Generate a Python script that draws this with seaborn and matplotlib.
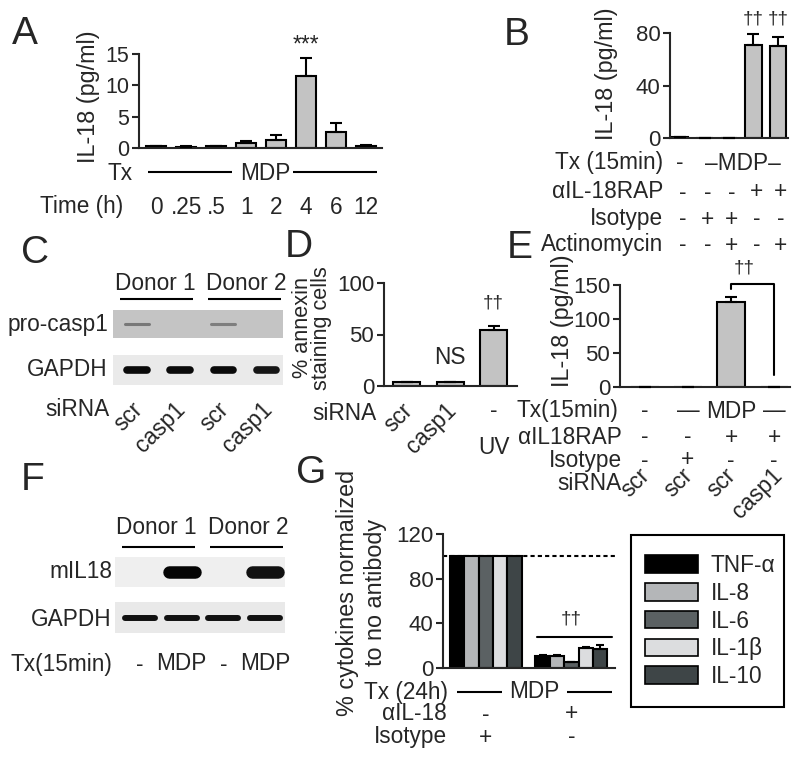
import numpy as np
import pandas as pd
import matplotlib
matplotlib.use("Agg")
import matplotlib.pyplot as plt
import seaborn as sns
from matplotlib.patches import Patch, Rectangle

# ---------------- data ----------------
a_times = ['0', '.25', '.5', '1', '2', '4', '6', '12']
a_il18 = [0.25, 0.2, 0.25, 0.85, 1.35, 11.5, 2.6, 0.35]
a_err = [0.1, 0.1, 0.1, 0.25, 0.65, 2.8, 1.4, 0.2]

b_il18 = [0.5, 0, 0, 71, 70]
b_err = [0, 0, 0, 8, 7]
b_rap = ['-', '-', '-', '+', '+']
b_iso = ['-', '+', '+', '-', '-']
b_act = ['-', '-', '+', '-', '+']

c_lanes = ['scr', 'casp1', 'scr', 'casp1']
c_procasp1 = [0.55, 0.0, 0.5, 0.0]
c_gapdh = [1.0, 1.0, 1.0, 0.95]

d_sirna = ['scr', 'casp1']
d_annexin = [3.5, 3.5, 54]
d_err = [0.5, 0.6, 4.5]

e_il18 = [0, 0, 125, 0]
e_err = [0, 0, 7, 0]
e_tx = ['-', '\u2014', 'MDP', '\u2014']
e_rap = ['-', '-', '+', '+']
e_iso = ['-', '+', '-', '-']
e_sirna = ['scr', 'scr', 'scr', 'casp1']

f_tx = ['-', 'MDP', '-', 'MDP']
f_mil18 = [0.0, 1.0, 0.0, 0.95]
f_gapdh = [1.0, 1.0, 1.0, 1.0]

g_cytokines = ['TNF-\u03b1', 'IL-8', 'IL-6', 'IL-1\u03b2', 'IL-10']
g_colors = ['#000000', '#b4b6b8', '#5b6163', '#dcdddf', '#3e4547']
g_conditions = ['Isotype', 'aIL-18']
g_isotype = [100, 100, 100, 100, 100]
g_anti = [10.5, 10.5, 5, 18, 17]
g_anti_err = [1, 1.2, 0.7, 1.2, 4]
g_rows_il18 = ['-', '+']
g_rows_iso = ['+', '-']

# ---------------- style ----------------
sns.set_theme(style="ticks")
plt.rcParams['font.family'] = ['Liberation Sans', 'DejaVu Sans']
plt.rcParams['axes.linewidth'] = 1.5
FS = 16.3
TK = 16
LAB = 16.8
LET = 28
DAG = 13.5
BAR = '#c3c3c3'

W, H = 800, 758
fig = plt.figure(figsize=(8, 7.58), dpi=100)


def box(l, t, r, b):
    return [l / W, 1 - b / H, (r - l) / W, (b - t) / H]


def xpx(rect, xlim, i):
    l, t, r, b = rect
    return l + (i - xlim[0]) / (xlim[1] - xlim[0]) * (r - l)


def afrac(rect, x_px, y_px):
    l, t, r, b = rect
    return (x_px - l) / (r - l), (b - y_px) / (b - t)


def ylab(ax, rect, text, x_px, y_px, **kw):
    ax.set_ylabel(text, va='center', ha='center', **kw)
    ax.yaxis.set_label_coords(*afrac(rect, x_px, y_px))


def bars(rect, vals, errs, ylim, yticks, xlim, width, tk=TK):
    ax = fig.add_axes(box(*rect))
    n = len(vals)
    sns.barplot(x=list(range(n)), y=vals, color=BAR, edgecolor='black',
                linewidth=1.5, width=width, saturation=1, errorbar=None, ax=ax)
    ax.errorbar(range(n), vals, yerr=[np.zeros(n), errs], fmt='none',
                ecolor='black', elinewidth=1.5, capsize=4, capthick=1.5,
                clip_on=False, zorder=5)
    ax.set_xlim(*xlim)
    ax.set_ylim(*ylim)
    ax.set_yticks(yticks)
    ax.set_xticks([])
    ax.set_xlabel('')
    sns.despine(ax=ax)
    ax.tick_params(axis='y', length=5, width=1.5, labelsize=tk, pad=2)
    ax.set_facecolor('none')
    return ax


def blot(rect, xlim, intens, bg, color, band_len, band_lw):
    ax = fig.add_axes(box(*rect))
    ax.set_facecolor(bg)
    ax.set_xlim(*xlim)
    ax.set_ylim(0, 1)
    for i, v in enumerate(intens):
        if v > 0:
            ax.plot([i - band_len / 2, i + band_len / 2], [0.5, 0.5], lw=band_lw,
                    color=color, alpha=v, solid_capstyle='round')
    ax.set_xticks([])
    ax.set_yticks([])
    for s in ax.spines.values():
        s.set_visible(False)
    return ax


ov = fig.add_axes([0, 0, 1, 1], zorder=10)
ov.set_xlim(0, W)
ov.set_ylim(H, 0)
ov.axis('off')
ov.patch.set_visible(False)


def T(x, y, s, size=FS, ha='center', va='center', **kw):
    ov.text(x, y, s, fontsize=size, ha=ha, va=va, **kw)


def vtext(x_base, y_c, s, size=LAB):
    # rotated label line, x_base = pixel x of the text baseline
    ov.text(x_base, y_c, s, fontsize=size, rotation=90, rotation_mode='anchor',
            ha='center', va='baseline')


def hline(x0, x1, y):
    ov.plot([x0, x1], [y, y], color='black', lw=1.5, solid_capstyle='butt')


# ---------------- panel A ----------------
rA = (139, 54, 382, 148)
xA = (-0.57, 7.53)
axA = bars(rA, a_il18, a_err, (0, 15), [0, 5, 10, 15], xA, 0.65, tk=15.5)
ylab(axA, rA, 'IL-18 (pg/ml)', 88, 97, fontsize=LAB)
axA.text(5, 14.6, '***', ha='center', va='bottom', fontsize=FS)
T(25, 34, 'A', size=LET)
T(133, 173, 'Tx', ha='right')
hline(148, 232, 172)
T(265, 173, 'MDP')
hline(293, 377, 172)
T(123, 207, 'Time (h)', ha='right')
for i, t in enumerate(a_times):
    T(xpx(rA, xA, i), 207, t)

# ---------------- panel B ----------------
rB = (670, 33, 788, 138)
xB = (-0.41, 4.41)
axB = bars(rB, b_il18, b_err, (0, 80), [0, 40, 80], xB, 0.67)
ylab(axB, rB, 'IL-18 (pg/ml)', 607, 74, fontsize=LAB)
for i in (3, 4):
    axB.text(i, 84, '\u2020\u2020', ha='center', va='bottom', fontsize=DAG)
T(517, 35, 'B', size=LET)
T(663, 163, 'Tx (15min)', ha='right')
T(xpx(rB, xB, 0), 163, '-')
T(743, 163, '\u2013MDP\u2013')
for y, lab, row in ((192, '\u03b1IL-18RAP', b_rap), (219, 'Isotype', b_iso),
                    (245, 'Actinomycin', b_act)):
    T(663, y, lab, ha='right')
    for i, s in enumerate(row):
        T(xpx(rB, xB, i) + 3, y, s)

# ---------------- panel C ----------------
xC = (-0.55, 3.38)
blot((113, 310, 283, 338), xC, c_procasp1, '#c4c4c4', '#3a3a3a', 0.55, 2.2)
blot((113, 355, 283, 385), xC, c_gapdh, '#eaeaea', '#0a0a0a', 0.45, 5.5)
T(35, 253, 'C', size=LET)
T(155, 283, 'Donor 1')
T(246, 283, 'Donor 2')
hline(120, 193, 299)
hline(208, 281, 299)
T(108, 324, 'pro-casp1', ha='right')
T(108, 370, 'GAPDH', ha='right')
T(110, 409, 'siRNA', ha='right')
for i, s in enumerate(c_lanes):
    T(xpx((113, 0, 283, 0), xC, i) + 10, 398, s, rotation=45, ha='right', va='top')

# ---------------- panel D ----------------
rD = (384, 283, 517, 386)
xD = (-0.52, 2.54)
axD = bars(rD, d_annexin, d_err, (0, 100), [0, 50, 100], xD, 0.62)
ylab(axD, rD, '% annexin\nstaining cells', 312, 328, fontsize=15.6,
     linespacing=0.9)
axD.text(1, 28, 'NS', ha='center', va='center', fontsize=FS)
axD.text(2, 81, '\u2020\u2020', ha='center', va='center', fontsize=DAG)
T(299, 247, 'D', size=LET)
T(377, 413, 'siRNA', ha='right')
for i, s in enumerate(d_sirna):
    T(xpx(rD, xD, i) + 11, 399, s, rotation=45, ha='right', va='top')
T(xpx(rD, xD, 2), 411, '-')
T(xpx(rD, xD, 2), 448, 'UV')

# ---------------- panel E ----------------
rE = (620, 285, 790, 387)
xE = (-0.58, 3.37)
axE = bars(rE, e_il18, e_err, (0, 150), [0, 50, 100, 150], xE, 0.63)
ylab(axE, rE, 'IL-18 (pg/ml)', 562, 321, fontsize=LAB)
axE.plot([2, 2, 3, 3], [144, 152, 152, 18], color='black', lw=1.5, clip_on=False)
axE.text(2.3, 175, '\u2020\u2020', ha='center', va='center', fontsize=DAG)
T(520, 248, 'E', size=LET)
T(618, 411, 'Tx(15min)', ha='right')
for i, s in enumerate(e_tx):
    T(xpx(rE, xE, i), 411, s)
for y, lab, row in ((437, '\u03b1IL18RAP', e_rap), (460, 'Isotype', e_iso)):
    T(622, y, lab, ha='right')
    for i, s in enumerate(row):
        T(xpx(rE, xE, i), y, s)
T(622, 483, 'siRNA', ha='right')
for i, s in enumerate(e_sirna):
    T(xpx(rE, xE, i) + (13 if s == 'casp1' else 9), 464, s, rotation=45,
      ha='right', va='top')

# ---------------- panel F ----------------
xF = (-0.6, 3.48)
blot((115, 557, 285, 587), xF, f_mil18, '#efefef', '#050505', 0.62, 9)
blot((115, 602, 285, 633), xF, f_gapdh, '#e9e9e9', '#111111', 0.72, 4.3)
T(33, 480, 'F', size=LET)
T(156, 527, 'Donor 1')
T(248, 527, 'Donor 2')
hline(122, 195, 547)
hline(210, 283, 547)
T(112, 572, 'mIL18', ha='right')
T(112, 620, 'GAPDH', ha='right')
T(112, 664, 'Tx(15min)', ha='right')
for i, s in enumerate(f_tx):
    T(xpx((115, 0, 285, 0), xF, i), 664, s)

# ---------------- panel G ----------------
rG = (443, 534, 615, 668)
xG = (-0.5, 1.51)
axG = fig.add_axes(box(*rG))
dfG = pd.DataFrame({
    'condition': [g_conditions[0]] * 5 + [g_conditions[1]] * 5,
    'cytokine': g_cytokines * 2,
    'value': g_isotype + g_anti,
})
sns.barplot(data=dfG, x='condition', y='value', hue='cytokine',
            order=g_conditions, hue_order=g_cytokines, palette=g_colors,
            edgecolor='black', linewidth=1.5, width=0.84, gap=0, saturation=1,
            errorbar=None, legend=False, ax=axG)
bar_conts = list(axG.containers)
for k, cont in enumerate(bar_conts):
    bar = cont.patches[1]
    xc = bar.get_x() + bar.get_width() / 2
    axG.errorbar([xc], [g_anti[k]], yerr=[[0], [g_anti_err[k]]], fmt='none',
                 ecolor='black', elinewidth=1.5, capsize=3, capthick=1.5, zorder=5)
axG.axhline(100, color='black', lw=1.5, ls=(0, (2, 1.5)), zorder=0)
axG.plot([0.6, 1.47], [28, 28], color='black', lw=1.5)
axG.text(1.0, 44, '\u2020\u2020', ha='center', va='center', fontsize=DAG)
axG.set_xlim(*xG)
axG.set_ylim(0, 120)
axG.set_yticks([0, 40, 80, 120])
axG.set_xticks([])
axG.set_xlabel('')
axG.set_ylabel('')
sns.despine(ax=axG)
axG.tick_params(axis='y', length=5, width=1.5, labelsize=TK, pad=2)
axG.set_facecolor('none')
vtext(354, 593, '% cytokines normalized')
vtext(382, 592, 'to no antibody')
T(311, 473, 'G', size=LET)
T(448, 692, 'Tx (24h)', ha='right')
hline(457, 502, 692)
T(534, 692, 'MDP')
hline(567, 612, 692)
T(447, 714, '\u03b1IL-18', ha='right')
T(447, 737, 'Isotype', ha='right')
for i in range(2):
    T(xpx(rG, xG, i), 714, g_rows_il18[i])
    T(xpx(rG, xG, i), 737, g_rows_iso[i])

# legend (frame drawn separately to match the reference's padding)
ov.add_patch(Rectangle((631, 535), 153, 172, fill=False, edgecolor='black',
                       lw=1.5))
handles = [Patch(facecolor=c, edgecolor='black', linewidth=1.2, label=n)
           for c, n in zip(g_colors, g_cytokines)]
leg = fig.legend(handles=handles, loc='upper left',
                 bbox_to_anchor=(645 / W, 1 - 554 / H), frameon=False,
                 fontsize=FS, handlelength=2.35, handleheight=0.8,
                 handletextpad=0.55, labelspacing=0.21, borderpad=0,
                 borderaxespad=0)

fig.savefig('out.png', dpi=100)
